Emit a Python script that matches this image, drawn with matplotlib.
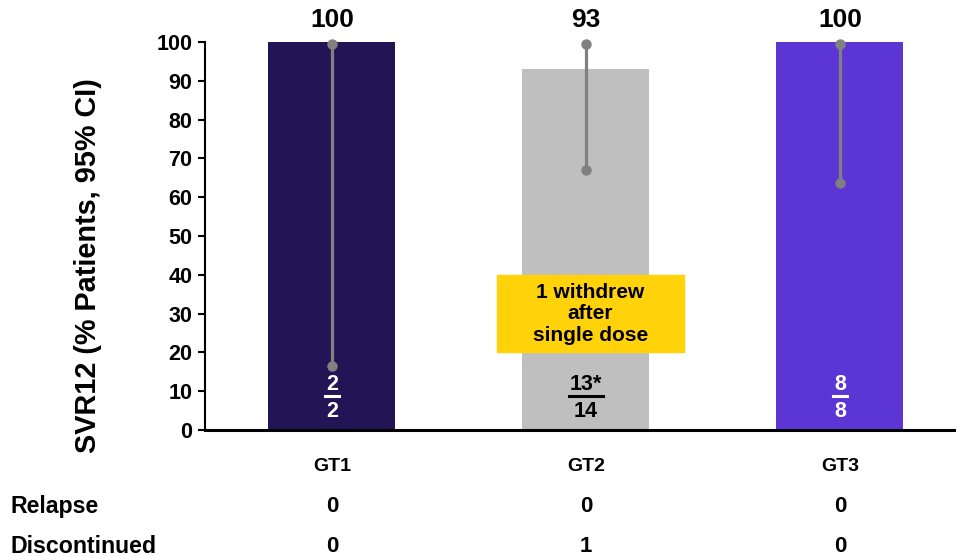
import matplotlib
matplotlib.use("Agg")
import matplotlib.pyplot as plt
from matplotlib.lines import Line2D
from matplotlib.patches import Rectangle

plt.rcParams['font.family'] = ['Liberation Sans', 'DejaVu Sans']
plt.rcParams['font.weight'] = 'bold'

categories = ['GT1', 'GT2', 'GT3']
svr = [100, 93, 100]
ci_low = [16.5, 67.0, 63.7]
ci_high = [99.6, 99.6, 99.6]
numerators = ['2', '13*', '8']
denominators = ['2', '14', '8']
relapse = [0, 0, 0]
discontinued = [0, 1, 0]
row_labels = ['Relapse', 'Discontinued']
note_text = '1 withdrew\nafter\nsingle dose'
colors = ['#231455', '#BFBFBF', '#5C36D4']
frac_colors = ['white', 'black', 'white']

fig = plt.figure(figsize=(9.56, 5.56), dpi=100)
ax = fig.add_axes([205/956, 1-430/556, 751/956, (430-42)/556])
x = list(range(len(categories)))
ax.bar(x, svr, width=0.5, color=colors, zorder=1)
ax.set_xlim(-0.5, 2.457)
ax.set_ylim(0, 100)

for xi, lo, hi in zip(x, ci_low, ci_high):
    ax.plot([xi, xi], [lo, hi], color='#808080', lw=2.3, marker='o',
            markersize=6.5, zorder=3, clip_on=False)

for xi, v in zip(x, svr):
    ax.text(xi, 105.6, f'{v}', ha='center', va='center', fontsize=19,
            fontweight='bold', clip_on=False)

# note box
ax.add_patch(Rectangle((0.65, 20.2), 0.736, 19.8, color='#FFD20A', zorder=2))
ax.text(1.018, 29.9, note_text, ha='center', va='center', fontsize=15,
        fontweight='bold', linespacing=1.17, zorder=4)

num_texts = []
for xi, n, d, c in zip(x, numerators, denominators, frac_colors):
    t = ax.text(xi, 11.7, n, ha='center', va='center', fontsize=15.5,
                fontweight='bold', color=c, zorder=4)
    ax.text(xi, 4.7, d, ha='center', va='center', fontsize=15.5,
            fontweight='bold', color=c, zorder=4)
    num_texts.append((t, c))

ax.spines['top'].set_visible(False)
ax.spines['right'].set_visible(False)
ax.spines['left'].set_linewidth(1.5)
ax.spines['bottom'].set_linewidth(2.2)
ax.set_yticks(range(0, 101, 10))
ax.tick_params(axis='y', length=5, width=1.5, labelsize=15.5, pad=4)
ax.tick_params(axis='x', length=0, labelsize=14, pad=20)
ax.set_xticks(x)
ax.set_xticklabels(categories, fontweight='bold')
for lab in ax.get_yticklabels():
    lab.set_fontweight('bold')
ax.set_ylabel('SVR12 (% Patients, 95% CI)', fontsize=20.8, fontweight='bold')
ax.yaxis.set_label_coords(-0.137, 0.425)

row_y = [-19.8, -29.9]
for ry, lab, vals in zip(row_y, row_labels, [relapse, discontinued]):
    ax.text(-0.5 - 195/254, ry, lab, ha='left', va='center', fontsize=16.7,
            fontweight='bold', clip_on=False)
    for xi, v in zip(x, vals):
        ax.text(xi, ry, f'{v}', ha='center', va='center', fontsize=16,
                fontweight='bold', clip_on=False)

# underline numerators
fig.canvas.draw()
r = fig.canvas.get_renderer()
inv = fig.transFigure.inverted()
for t, c in num_texts:
    bb = t.get_window_extent(renderer=r)
    (x0, y0) = inv.transform((bb.x0 - 1, bb.y0 - 1))
    (x1, _) = inv.transform((bb.x1 + 1, bb.y0 - 1))
    fig.add_artist(Line2D([x0, x1], [y0, y0], color=c, lw=2.2,
                          transform=fig.transFigure, zorder=5))

fig.savefig('out.png', dpi=100)
